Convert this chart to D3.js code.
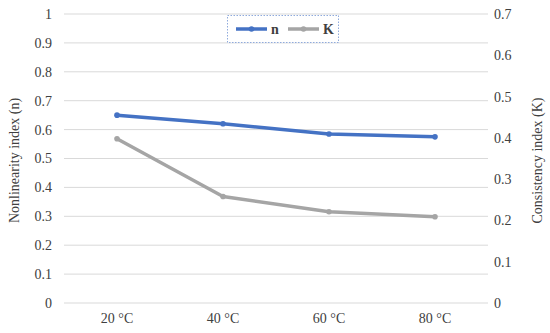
<!DOCTYPE html>
<html><head><meta charset="utf-8">
<script src="https://cdn.jsdelivr.net/npm/d3@7"></script>
<style>body{margin:0;background:#fff}svg{display:block}</style>
</head><body>
<svg id="c" width="550" height="333"></svg>
<script>
const categories = ["20 °C", "40 °C", "60 °C", "80 °C"];
const nValues = [0.65, 0.62, 0.585, 0.575];
const kValues = [0.398, 0.258, 0.221, 0.209];
const leftTicks = [0,0.1,0.2,0.3,0.4,0.5,0.6,0.7,0.8,0.9,1];
const rightTicks = [0,0.1,0.2,0.3,0.4,0.5,0.6,0.7];
const seriesNames = ["n", "K"];

const svg = d3.select("#c");
const L = 64, R = 488, T = 14, B = 303;
const font = "'Liberation Serif','Times New Roman',serif";
const fs = 14;
const x = d3.scaleBand().domain(categories).range([L, R]);
const yL = d3.scaleLinear().domain([0, 1]).range([B, T]);
const yR = d3.scaleLinear().domain([0, 0.7]).range([B, T]);

// gridlines
svg.append("g").selectAll("line").data(leftTicks).join("line")
  .attr("x1", L).attr("x2", R)
  .attr("y1", d => yL(d)).attr("y2", d => yL(d))
  .attr("stroke", "#d9d9d9").attr("stroke-width", 1);

// left axis
const gl = svg.append("g").attr("transform", `translate(${L},0)`)
  .call(d3.axisLeft(yL).tickValues(leftTicks).tickFormat(d => d3.format("")(d)).tickSize(0).tickPadding(12));
gl.select(".domain").remove();
gl.selectAll("text").attr("font-family", font).attr("font-size", fs).attr("fill", "#404040");

// right axis
const gr = svg.append("g").attr("transform", `translate(${R},0)`)
  .call(d3.axisRight(yR).tickValues(rightTicks).tickFormat(d => d3.format("")(d)).tickSize(0).tickPadding(6));
gr.select(".domain").remove();
gr.selectAll("text").attr("font-family", font).attr("font-size", fs).attr("fill", "#404040");

// bottom axis
const gb = svg.append("g").attr("transform", `translate(0,${B})`)
  .call(d3.axisBottom(x).tickSize(0).tickPadding(10));
gb.select(".domain").remove();
gb.selectAll("text").attr("font-family", font).attr("font-size", fs).attr("fill", "#404040");

// axis titles
svg.append("text").attr("transform", `translate(19,${(T+B)/2 + 2}) rotate(-90)`)
  .attr("text-anchor", "middle").attr("font-family", font).attr("font-size", fs).attr("fill", "#404040")
  .text("Nonlinearity index (n)");
svg.append("text").attr("transform", `translate(542,${(T+B)/2 + 2}) rotate(-90)`)
  .attr("text-anchor", "middle").attr("font-family", font).attr("font-size", fs).attr("fill", "#404040")
  .text("Consistency index (K)");

const cx = d => x(d) + x.bandwidth() / 2;
const series = [
  {name: seriesNames[0], vals: nValues, y: yL, color: "#4472C4"},
  {name: seriesNames[1], vals: kValues, y: yR, color: "#A5A5A5"}
];
series.slice().reverse().forEach(s => {
  const line = d3.line().x((d, i) => cx(categories[i])).y(d => s.y(d));
  svg.append("path").datum(s.vals).attr("d", line)
    .attr("fill", "none").attr("stroke", s.color).attr("stroke-width", 3.5)
    .attr("stroke-linejoin", "round");
  svg.append("g").selectAll("circle").data(s.vals).join("circle")
    .attr("cx", (d, i) => cx(categories[i])).attr("cy", d => s.y(d))
    .attr("r", 2.8).attr("fill", s.color);
});

// legend
const lg = svg.append("g");
lg.append("rect").attr("x", 227.5).attr("y", 15.5).attr("width", 111).attr("height", 27)
  .attr("fill", "#fff").attr("stroke", "#8faadc").attr("stroke-width", 1).attr("stroke-dasharray", "1.5,1.5");
series.forEach((s, i) => {
  const x0 = 236 + i * 52;
  lg.append("line").attr("x1", x0).attr("x2", x0 + 31).attr("y1", 29).attr("y2", 29)
    .attr("stroke", s.color).attr("stroke-width", 3.5);
  lg.append("circle").attr("cx", x0 + 15.5).attr("cy", 29).attr("r", 2.8).attr("fill", s.color);
  lg.append("text").attr("x", x0 + 35).attr("y", 34).attr("font-family", font)
    .attr("font-size", fs).attr("font-weight", "bold").attr("fill", "#404040").text(s.name);
});
</script>
</body></html>
